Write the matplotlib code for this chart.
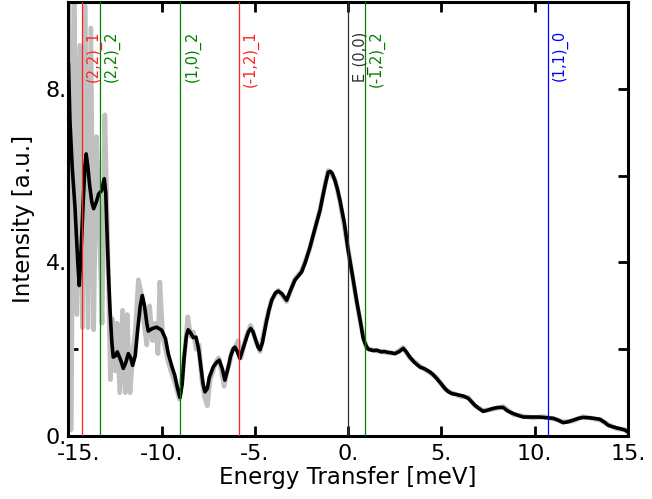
import numpy as np
import matplotlib
matplotlib.use("Agg")
import matplotlib.pyplot as plt
from matplotlib.ticker import FuncFormatter, FixedLocator
import matplotlib.transforms as mtransforms

# Smoothed (fit) curve
fit_x = [-15.0, -14.92, -14.80, -14.65, -14.50, -14.42, -14.32, -14.22, -14.12, -14.05,
         -13.96, -13.87, -13.75, -13.65, -13.50, -13.38, -13.23, -13.15, -13.08, -13.00,
         -12.94, -12.85, -12.77, -12.68, -12.60, -12.48, -12.38, -12.20, -12.06, -11.92,
         -11.79, -11.66, -11.56, -11.42, -11.30, -11.15, -11.04, -10.92, -10.80, -10.72,
         -10.50, -10.27, -10.00, -9.80, -9.65, -9.45, -9.30, -9.15, -9.02, -8.90,
         -8.80, -8.68, -8.58, -8.45, -8.31, -8.16, -8.02, -7.90, -7.78, -7.68,
         -7.55, -7.45, -7.24, -7.05, -6.91, -6.75, -6.61, -6.45, -6.30, -6.15,
         -6.07, -5.95, -5.81, -5.65, -5.50, -5.35, -5.23, -5.10, -4.95, -4.83,
         -4.73, -4.60, -4.40, -4.25, -4.10, -3.90, -3.75, -3.55, -3.30, -3.10,
         -2.86, -2.65, -2.50, -2.30, -2.05, -1.80, -1.51, -1.35, -1.20, -1.07,
         -0.95, -0.85, -0.71, -0.58, -0.44, -0.20, 0.00, 0.25, 0.45, 0.65,
         0.81, 0.92, 1.00, 1.08, 1.17, 1.35, 1.53, 1.79, 1.95, 2.13,
         2.30, 2.51, 2.75, 2.95, 3.10, 3.31, 3.55, 3.85, 4.10, 4.38,
         4.55, 4.74, 5.00, 5.19, 5.35, 5.55, 5.80, 5.99, 6.20, 6.44,
         6.60, 6.80, 7.00, 7.24, 7.50, 7.78, 8.05, 8.31, 8.55, 8.85,
         9.10, 9.39, 9.65, 9.92, 10.20, 10.46, 10.75, 11.00, 11.25, 11.53,
         11.80, 12.07, 12.35, 12.60, 13.00, 13.50, 13.75, 13.94, 14.15, 14.40,
         14.60, 14.84, 15.0]
fit_y = [8.60, 7.26, 6.20, 5.27, 4.00, 3.47, 4.30, 5.30, 6.20, 6.50,
         6.20, 5.80, 5.40, 5.24, 5.40, 5.58, 5.65, 5.80, 5.93, 5.60,
         4.80, 3.70, 2.90, 2.20, 1.82, 1.85, 1.94, 1.75, 1.56, 1.70,
         1.90, 1.80, 1.63, 1.85, 2.40, 3.00, 3.24, 3.00, 2.60, 2.42,
         2.48, 2.51, 2.44, 2.25, 1.90, 1.60, 1.40, 1.10, 0.89, 1.20,
         1.80, 2.30, 2.45, 2.38, 2.27, 2.28, 2.00, 1.60, 1.20, 1.02,
         1.10, 1.35, 1.59, 1.70, 1.75, 1.55, 1.29, 1.55, 1.85, 2.02,
         2.05, 1.95, 1.79, 2.00, 2.20, 2.40, 2.48, 2.40, 2.20, 2.05,
         1.99, 2.15, 2.60, 2.90, 3.13, 3.30, 3.34, 3.28, 3.13, 3.35,
         3.59, 3.70, 3.78, 4.00, 4.35, 4.75, 5.20, 5.55, 5.85, 6.08,
         6.10, 6.05, 5.89, 5.70, 5.43, 4.90, 4.28, 3.65, 3.13, 2.65,
         2.25, 2.12, 2.05, 2.00, 1.99, 1.97, 1.98, 1.94, 1.95, 1.93,
         1.92, 1.90, 1.95, 2.02, 1.95, 1.82, 1.70, 1.59, 1.55, 1.48,
         1.42, 1.33, 1.20, 1.10, 1.03, 0.98, 0.96, 0.94, 0.92, 0.87,
         0.80, 0.71, 0.64, 0.57, 0.60, 0.64, 0.66, 0.66, 0.58, 0.52,
         0.48, 0.44, 0.44, 0.44, 0.44, 0.43, 0.42, 0.41, 0.37, 0.31,
         0.33, 0.37, 0.41, 0.43, 0.42, 0.39, 0.32, 0.25, 0.22, 0.19,
         0.17, 0.14, 0.10]

# Raw (noisy) data
raw_x = [-15.0, -14.85, -14.7, -14.55, -14.4, -14.25, -14.1, -13.95, -13.8, -13.65,
         -13.5, -13.35, -13.2, -13.05, -12.9, -12.75, -12.65, -12.5, -12.4, -12.25,
         -12.1, -11.95, -11.85, -11.7, -11.55, -11.4, -11.25, -11.1, -10.95, -10.8,
         -10.65, -10.5, -10.35, -10.2, -10.1, -9.95, -9.8, -9.65, -9.5, -9.35,
         -9.2, -9.05, -8.9, -8.75, -8.6, -8.45, -8.3, -8.15, -8.0, -7.85,
         -7.7, -7.55, -7.4, -7.25, -7.1, -6.95, -6.8, -6.65, -6.5, -6.35,
         -6.2, -6.05, -5.9, -5.75, -5.50, -5.23, -4.95, -4.73, -4.40, -4.10,
         -3.75, -3.30, -2.86, -2.50, -2.05, -1.51, -1.20, -1.07, -0.90, -0.71,
         -0.44, 0.00, 0.45, 0.81, 1.00, 1.17, 1.53, 1.79, 2.13, 2.51,
         2.95, 3.31, 3.85, 4.38, 4.74, 5.19, 5.55, 5.99, 6.44, 6.80,
         7.24, 7.78, 8.31, 8.85, 9.39, 9.92, 10.46, 11.00, 11.53, 12.07,
         12.60, 13.50, 13.94, 14.40, 14.84, 15.0]
raw_y = [11.0, 0.15, 10.5, 2.8, 9.0, 2.5, 9.9, 2.5, 9.4, 2.45,
         6.9, 5.0, 2.6, 7.4, 4.5, 1.3, 2.7, 1.5, 2.6, 1.0,
         2.9, 1.0, 2.8, 1.0, 1.9, 2.5, 3.6, 3.3, 2.6, 2.1,
         3.0, 2.2, 2.6, 1.9, 3.55, 2.3, 2.0, 1.7, 1.5, 1.3,
         1.1, 0.85, 1.4, 2.0, 2.75, 2.3, 2.4, 2.0, 2.1, 1.3,
         0.9, 0.7, 1.3, 1.5, 1.7, 1.8, 1.5, 1.15, 1.5, 1.7,
         2.0, 2.05, 2.2, 1.8, 2.25, 2.55, 2.2, 1.95, 2.65, 3.15,
         3.36, 3.10, 3.62, 3.80, 4.33, 5.22, 5.87, 6.12, 6.03, 5.91,
         5.40, 4.30, 3.10, 2.28, 2.03, 2.00, 1.96, 1.95, 1.92, 1.91,
         2.04, 1.80, 1.61, 1.46, 1.35, 1.08, 1.00, 0.92, 0.89, 0.70,
         0.59, 0.62, 0.68, 0.50, 0.46, 0.42, 0.45, 0.40, 0.33, 0.35,
         0.45, 0.37, 0.27, 0.17, 0.15, 0.08]

# Reflection markers
mark_x = [-14.28, -13.30, -9.00, -5.84, 0.0, 0.90, 10.71]
mark_labels = ["(2,2)_1", "(2,2)_2", "(1,0)_2", "(-1,2)_1", "E_(0,0)", "(-1,2)_2", "(1,1)_0"]
mark_colors = ["#ff2020", "#008000", "#008000", "#ff2020", "#303030", "#008000", "#0000ff"]

x_ticks = [-15, -10, -5, 0, 5, 10, 15]
y_major = [0, 4, 8]
y_minor = [2, 6]

fig = plt.figure(figsize=(6.52, 4.99), dpi=100)
ax = fig.add_axes([0.105, 0.126, 0.858, 0.870])

ax.plot(raw_x, raw_y, color="#c0c0c0", lw=3.4, solid_joinstyle="round", zorder=2)
ax.plot(fit_x, fit_y, color="black", lw=2.6, solid_joinstyle="round",
        solid_capstyle="round", zorder=3)

for xv, lab, col in zip(mark_x, mark_labels, mark_colors):
    ax.axvline(xv, color=col, lw=0.9, zorder=4)
    ax.text(xv + 0.2, 9.35, lab, rotation=90, color=col, fontsize=10.5,
            ha="left", va="top", zorder=5)

ax.set_xlim(-15, 15)
ax.set_ylim(0, 10)
ax.xaxis.set_major_locator(FixedLocator(x_ticks))
ax.yaxis.set_major_locator(FixedLocator(y_major))
ax.yaxis.set_minor_locator(FixedLocator(y_minor))
fmt = FuncFormatter(lambda v, p: f"{v:g}.")
ax.xaxis.set_major_formatter(fmt)
ax.yaxis.set_major_formatter(fmt)

ax.tick_params(which="both", direction="in", length=7, width=2,
               top=True, right=True, labelsize=16)
ax.tick_params(axis="x", pad=6)
ax.tick_params(axis="y", pad=1)
for s in ax.spines.values():
    s.set_linewidth(2.2)

# shift first x tick label right (as in reference)
fig.canvas.draw()
lbls = ax.get_xticklabels()
off = mtransforms.ScaledTranslation(10 / 100, 0, fig.dpi_scale_trans)
lbls[0].set_transform(lbls[0].get_transform() + off)

ax.set_xlabel("Energy Transfer [meV]", fontsize=16.5, labelpad=1)
ax.set_ylabel("Intensity [a.u.]", fontsize=16.5, labelpad=8)

fig.savefig("out.png", dpi=100)
